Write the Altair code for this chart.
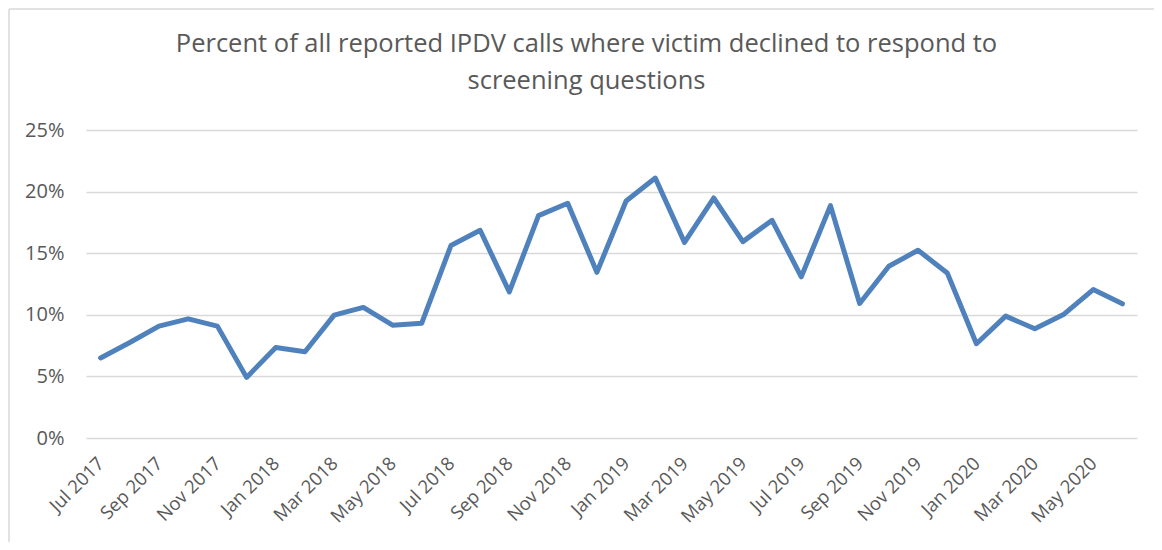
import altair as alt
import pandas as pd

months = [
    "Jul 2017", "Aug 2017", "Sep 2017", "Oct 2017", "Nov 2017", "Dec 2017",
    "Jan 2018", "Feb 2018", "Mar 2018", "Apr 2018", "May 2018", "Jun 2018",
    "Jul 2018", "Aug 2018", "Sep 2018", "Oct 2018", "Nov 2018", "Dec 2018",
    "Jan 2019", "Feb 2019", "Mar 2019", "Apr 2019", "May 2019", "Jun 2019",
    "Jul 2019", "Aug 2019", "Sep 2019", "Oct 2019", "Nov 2019", "Dec 2019",
    "Jan 2020", "Feb 2020", "Mar 2020", "Apr 2020", "May 2020", "Jun 2020",
]
pct = [
    6.5, 7.75, 9.08, 9.67, 9.08, 4.92,
    7.35, 7.0, 9.97, 10.6, 9.16, 9.32,
    15.62, 16.86, 11.86, 18.05, 19.05, 13.45,
    19.24, 21.1, 15.88, 19.48, 15.94, 17.67,
    13.08, 18.86, 10.92, 13.94, 15.24, 13.4,
    7.65, 9.89, 8.87, 10.05, 12.05, 10.89,
]
tick_months = months[::2]
y_ticks = [0, 0.05, 0.10, 0.15, 0.20, 0.25]
title_lines = [
    "Percent of all reported IPDV calls where victim declined to respond to",
    "screening questions",
]

df = pd.DataFrame({"month": months, "pct": [v / 100 for v in pct]})

FONT = "Open Sans"
TXT = "#595959"
GRID = "#d9d9d9"

line = alt.Chart(df).mark_line(
    color="#4f81bd", strokeWidth=5, strokeCap="round", strokeJoin="round"
).encode(
    x=alt.X(
        "month:O",
        sort=months,
        scale=alt.Scale(type="point", padding=0.5),
        axis=alt.Axis(
            values=tick_months, labelAngle=-45, labelAlign="right",
            labelBaseline="middle", ticks=False, domain=False, grid=False,
            title=None, labelPadding=22, labelFont=FONT, labelFontSize=18.5,
            labelColor=TXT, labelOverlap=False,
        ),
    ),
    y=alt.Y(
        "pct:Q",
        scale=alt.Scale(domain=[0, 0.25], nice=False),
        axis=alt.Axis(
            values=y_ticks, format=".0%", grid=True, gridColor=GRID,
            gridWidth=1.5, domain=False, ticks=False, title=None,
            labelPadding=22, labelFont=FONT, labelFontSize=20, labelColor=TXT,
        ),
    ),
)

frame_df = pd.DataFrame({"k": [0]})
vborder = alt.Chart(frame_df).mark_rule(color=GRID, strokeWidth=1.5).encode(
    x=alt.value(-77), y=alt.value(-121), y2=alt.value(430)
)
hborder = alt.Chart(frame_df).mark_rule(color=GRID, strokeWidth=1.5).encode(
    y=alt.value(-121), x=alt.value(-77), x2=alt.value(1080)
)

chart = alt.layer(vborder, hborder, line).properties(
    width=1051,
    height=308,
    autosize=alt.AutoSizeParams(type="none"),
    padding={"left": 78, "top": 122, "right": 17, "bottom": 104},
    background="white",
    title=alt.TitleParams(
        title_lines, font=FONT, fontSize=25.5, fontWeight="normal", color=TXT,
        lineHeight=37, anchor="middle", frame="group", dx=-25, offset=-86,
    ),
).configure_view(strokeWidth=0)

chart.save("out.html", embed_options={"renderer": "svg", "actions": False})
